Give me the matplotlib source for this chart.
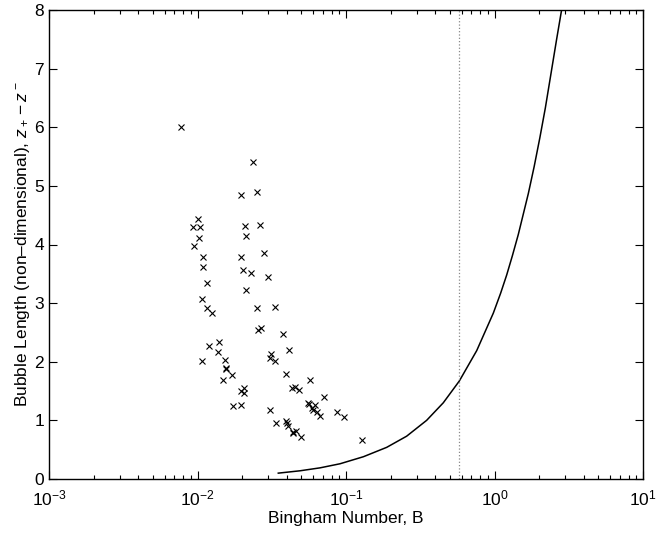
import matplotlib
matplotlib.use("Agg")
import matplotlib.pyplot as plt
from matplotlib.ticker import LogLocator, NullFormatter, FixedLocator

plt.rcParams['font.family'] = ['Liberation Sans', 'DejaVu Sans']
plt.rcParams['mathtext.fontset'] = 'custom'
plt.rcParams['mathtext.rm'] = 'Liberation Sans'
plt.rcParams['mathtext.it'] = 'Liberation Sans:italic'

# Experimental points (Bingham number, bubble length)
exp_B = [0.00774, 0.02355, 0.0251, 0.01963, 0.01004, 0.00929, 0.01038, 0.02094,
         0.0263, 0.01019, 0.02123, 0.00942, 0.0279, 0.01094, 0.0195, 0.01086,
         0.0203, 0.02296, 0.0299, 0.0115, 0.02123, 0.01066, 0.0334, 0.0251,
         0.01166, 0.01245, 0.0268, 0.0257, 0.0376, 0.0139, 0.01197, 0.0138,
         0.0414, 0.0311, 0.0309, 0.0334, 0.01066, 0.01535, 0.01563, 0.0156,
         0.0170, 0.0394, 0.01476, 0.0570, 0.0431, 0.0457, 0.0479, 0.0207,
         0.01963, 0.02055, 0.0716, 0.0556, 0.0562, 0.0621, 0.0589, 0.0600,
         0.0173, 0.01977, 0.0641, 0.0670, 0.0865, 0.0970, 0.0309, 0.0336,
         0.0394, 0.0400, 0.0409, 0.0440, 0.0458, 0.0437, 0.0494, 0.1277]
exp_L = [6.00, 5.41, 4.89, 4.84, 4.43, 4.29, 4.29, 4.31,
         4.33, 4.11, 4.14, 3.97, 3.85, 3.78, 3.79, 3.62,
         3.57, 3.51, 3.45, 3.34, 3.23, 3.07, 2.93, 2.91,
         2.92, 2.84, 2.57, 2.54, 2.47, 2.33, 2.27, 2.17,
         2.20, 2.14, 2.06, 2.01, 2.01, 2.03, 1.90, 1.88,
         1.77, 1.79, 1.69, 1.69, 1.55, 1.57, 1.52, 1.56,
         1.50, 1.46, 1.40, 1.30, 1.28, 1.26, 1.21, 1.17,
         1.25, 1.26, 1.14, 1.07, 1.15, 1.05, 1.18, 0.95,
         0.99, 0.95, 0.90, 0.80, 0.82, 0.78, 0.72, 0.66]

# Theoretical curve
theory_B = [0.035, 0.049, 0.0668, 0.0912, 0.131, 0.188, 0.256, 0.349, 0.452,
            0.579, 0.759, 0.982, 1.10, 1.208, 1.32, 1.446, 1.69, 1.85, 2.02,
            2.20, 2.36, 2.62, 2.83]
theory_L = [0.10, 0.14, 0.19, 0.26, 0.38, 0.54, 0.73, 1.00, 1.30,
            1.67, 2.19, 2.83, 3.17, 3.48, 3.81, 4.17, 4.87, 5.33, 5.82,
            6.33, 6.80, 7.50, 8.00]

# Critical Bingham number (dotted line)
B_crit = 0.579

fig = plt.figure(figsize=(6.58, 5.40), dpi=100)
ax = fig.add_axes([49/658, 1 - 479/540, (643-49)/658, (479-10)/540])

ax.plot(exp_B, exp_L, linestyle='none', marker='x', color='black',
        markersize=5, markeredgewidth=0.8)
ax.plot(theory_B, theory_L, color='black', linewidth=1.1,
        solid_joinstyle='round')
ax.axvline(B_crit, color='#888888', linestyle=':', linewidth=0.9)

ax.set_xscale('log')
ax.set_xlim(1e-3, 1e1)
ax.set_ylim(0, 8)
ax.xaxis.set_major_locator(FixedLocator([1e-3, 1e-2, 1e-1, 1e0, 1e1]))
ax.xaxis.set_minor_locator(LogLocator(base=10, subs=range(2, 10)))
ax.xaxis.set_minor_formatter(NullFormatter())
ax.set_yticks(range(0, 9))

ax.tick_params(which='both', direction='in', top=True, right=True,
               labelsize=12.5, width=0.8)
ax.tick_params(which='major', length=6)
ax.tick_params(which='minor', length=3)
ax.tick_params(axis='x', which='major', pad=7)
for s in ax.spines.values():
    s.set_linewidth(1.0)

ax.set_xlabel('Bingham Number, B', fontsize=12.5, labelpad=2)
ax.set_ylabel('Bubble Length (non\u2013dimensional), $z_+ - z^-$',
              fontsize=12.5, labelpad=2)

fig.savefig('out.png', dpi=100)
